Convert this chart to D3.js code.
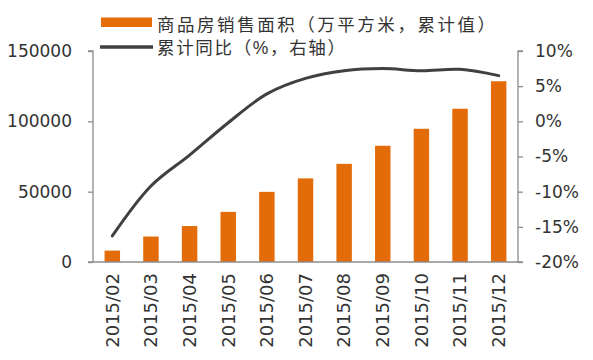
<!DOCTYPE html>
<html><head><meta charset="utf-8">
<script src="https://cdn.jsdelivr.net/npm/d3@7/dist/d3.min.js"></script>
<style>
html,body{margin:0;padding:0;background:#fff;}
svg{display:block;}
</style></head>
<body>
<svg id="chart" width="593" height="360"></svg>
<script>
const categories = ["2015/02","2015/03","2015/04","2015/05","2015/06","2015/07","2015/08","2015/09","2015/10","2015/11","2015/12"];
const salesArea = [8095, 18100, 25561, 35634, 49856, 59430, 69797, 82623, 94700, 108949, 128495];
const yoyGrowth = [-16.3, -9.2, -4.8, -0.2, 3.9, 6.1, 7.2, 7.5, 7.2, 7.4, 6.5];
const leftTicks = [0, 50000, 100000, 150000];
const rightTicks = [-20, -15, -10, -5, 0, 5, 10];
const seriesNames = ["商品房销售面积（万平方米，累计值）", "累计同比（%，右轴）"];
const legendWidths = [338, 188];

const svg = d3.select("#chart");
const L = 93, R = 518, T = 51, B = 262;
const barColor = "#E36C09", lineColor = "#404040", axisColor = "#8c8c8c", textColor = "#333";
const tickFont = "'DejaVu Sans', sans-serif";

const x = d3.scaleBand().domain(categories).range([L, R]).paddingInner(0.6).paddingOuter(0.3);
const yL = d3.scaleLinear().domain([0, 150000]).range([B, T]);
const yR = d3.scaleLinear().domain([-20, 10]).range([B, T]);

// bars
svg.append("g").selectAll("rect").data(categories).join("rect")
  .attr("x", d => x(d))
  .attr("y", (d,i) => yL(salesArea[i]))
  .attr("width", x.bandwidth())
  .attr("height", (d,i) => yL(0) - yL(salesArea[i]))
  .attr("fill", barColor);

// left axis
const gl = svg.append("g").attr("transform", `translate(${L},0)`)
  .call(d3.axisLeft(yL).tickValues(leftTicks).tickSize(5).tickPadding(16).tickFormat(d3.format("d")));
gl.select(".domain").attr("stroke", axisColor).attr("stroke-width", 1.3).attr("d", `M-5,${T}H0V${B}`);
gl.selectAll(".tick line").attr("stroke", axisColor).attr("stroke-width", 1.3);
gl.selectAll("text").attr("font-family", tickFont).attr("font-size", 17).attr("fill", textColor);

// right axis
const gr = svg.append("g").attr("transform", `translate(${R},0)`)
  .call(d3.axisRight(yR).tickValues(rightTicks).tickSize(5).tickPadding(12).tickFormat(d => d + "%"));
gr.select(".domain").attr("stroke", axisColor).attr("stroke-width", 1.3).attr("d", `M5,${T}H0V${B}H5`);
gr.selectAll(".tick line").attr("stroke", axisColor).attr("stroke-width", 1.3);
gr.selectAll("text").attr("font-family", tickFont).attr("font-size", 17).attr("fill", textColor);

// bottom axis
const gb = svg.append("g").attr("transform", `translate(0,${B})`)
  .call(d3.axisBottom(x).tickSize(0).tickPadding(0));
gb.select(".domain").attr("stroke", axisColor).attr("stroke-width", 1.3).attr("d", `M${L-5},0H${R}`);
gb.selectAll("text")
  .attr("font-family", tickFont).attr("font-size", 18).attr("fill", textColor)
  .attr("transform", "rotate(-90)")
  .attr("text-anchor", "end")
  .attr("x", -11).attr("y", 0).attr("dy", "0.35em");

// line
const line = d3.line()
  .x((d,i) => x(categories[i]) + x.bandwidth()/2)
  .y(d => yR(d))
  .curve(d3.curveCatmullRom.alpha(0.5));
svg.append("path").datum(yoyGrowth)
  .attr("d", line).attr("fill", "none")
  .attr("stroke", lineColor).attr("stroke-width", 3).attr("stroke-linecap", "round");

// legend
const lg = svg.append("g");
lg.append("rect").attr("x", 101).attr("y", 17.5).attr("width", 51).attr("height", 9.5).attr("fill", barColor);
lg.append("line").attr("x1", 100).attr("x2", 153).attr("y1", 47).attr("y2", 47)
  .attr("stroke", lineColor).attr("stroke-width", 3.5);
lg.selectAll("text").data(seriesNames).join("text")
  .attr("x", 157).attr("y", (d,i) => 31 + i*22.5)
  .attr("font-family", "'Liberation Sans', 'Noto Sans CJK SC', sans-serif").attr("font-size", 17.5)
  .attr("textLength", (d,i) => legendWidths[i]).attr("lengthAdjust", "spacing")
  .attr("fill", textColor).text(d => d);
</script>
</body></html>
